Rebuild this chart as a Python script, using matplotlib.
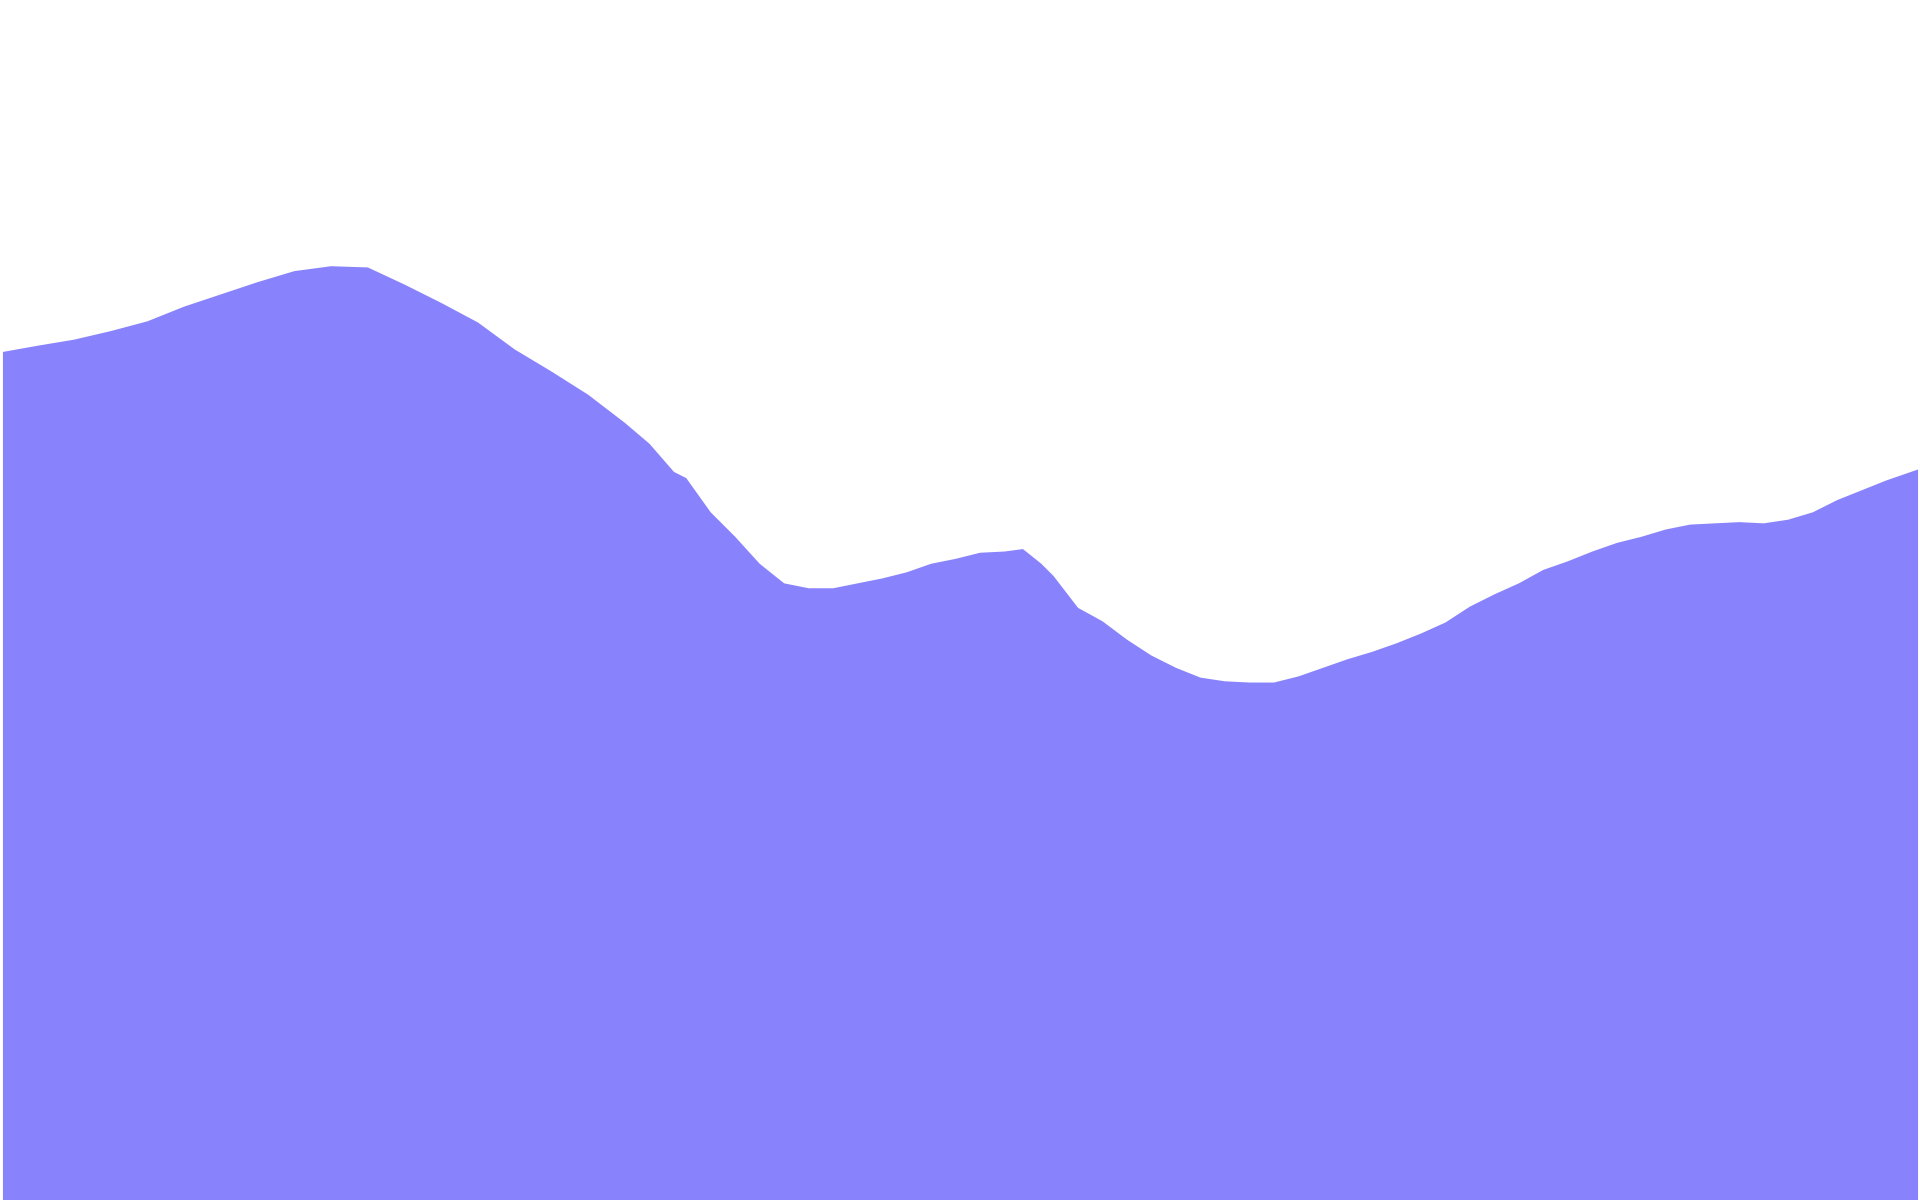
import numpy as np
import matplotlib
matplotlib.use("Agg")
import matplotlib.pyplot as plt

# sample positions along the x axis and the area height at each one
t = [2, 30, 60, 90, 120, 150, 180, 210, 240, 270, 300, 330, 360, 390, 420,
     450, 480, 510, 530, 550, 560, 580, 600, 620, 640, 660, 680, 700, 720,
     740, 760, 780, 800, 820, 835, 850, 860, 880, 900, 920, 940, 960, 980,
     1000, 1020, 1040, 1060, 1080, 1100, 1120, 1140, 1160, 1180, 1200, 1220,
     1240, 1260, 1280, 1300, 1320, 1340, 1360, 1380, 1400, 1420, 1440, 1460,
     1480, 1500, 1520, 1540, 1566]
values = [693, 698, 703, 710, 718, 730, 740, 750, 759, 763, 762, 748, 733, 717,
          695, 677, 658, 635, 618, 595, 590, 562, 542, 520, 504, 500, 500, 504,
          508, 513, 520, 524, 529, 530, 532, 520, 510, 484, 473, 458, 445, 435,
          427, 424, 423, 423, 428, 435, 442, 448, 455, 463, 472, 485, 495, 504,
          515, 522, 530, 537, 542, 548, 552, 553, 554, 553, 556, 562, 572, 580,
          588, 597]

fig = plt.figure(figsize=(19.2, 12), dpi=100)
ax = fig.add_axes([0, 0, 1, 1])
ax.fill_between(t, values, 0, color='#8883fd', linewidth=0, antialiased=True)
ax.set_xlim(0, 1568)
ax.set_ylim(0, 980)
ax.axis('off')

fig.savefig('out.png', dpi=100, facecolor='white')
